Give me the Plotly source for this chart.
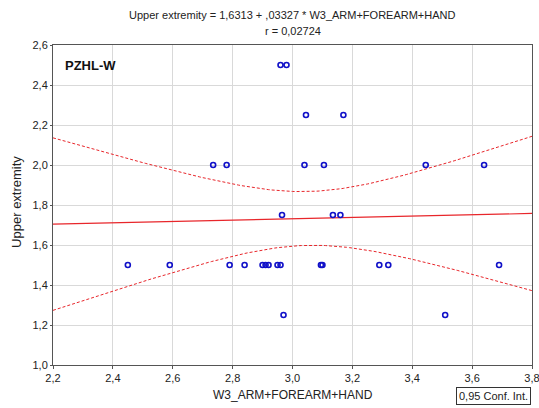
import numpy as np
import plotly.graph_objects as go

# ---- data ----
x_w3 = [2.45, 2.59, 2.79, 2.84, 2.90, 2.91, 2.92, 2.95, 2.96, 3.095, 3.10, 3.29, 3.32, 3.69,
        2.97, 3.51,
        2.735, 2.78, 3.04, 3.105, 3.445, 3.64,
        3.045, 3.17,
        2.96, 2.98,
        2.965, 3.135, 3.16]
y_upper = [1.5] * 14 + [1.25] * 2 + [2.0] * 6 + [2.25] * 2 + [2.5] * 2 + [1.75] * 3

intercept = 1.6313
slope = 0.03327
r_value = "0,02724"
T_CRIT = 2.052  # t(0.975, df = n-2 = 27)

x_ticks = [2.2, 2.4, 2.6, 2.8, 3.0, 3.2, 3.4, 3.6, 3.8]
y_ticks = [1.0, 1.2, 1.4, 1.6, 1.8, 2.0, 2.2, 2.4, 2.6]

# ---- regression line and 95% confidence band ----
xa = np.array(x_w3)
ya = np.array(y_upper)
n = len(xa)
resid = ya - (intercept + slope * xa)
s = np.sqrt(np.sum(resid ** 2) / (n - 2))
sxx = np.sum((xa - xa.mean()) ** 2)
xg = np.linspace(x_ticks[0], x_ticks[-1], 161)
yg = intercept + slope * xg
half = T_CRIT * s * np.sqrt(1.0 / n + (xg - xa.mean()) ** 2 / sxx)

red = "#e8262b"
fig = go.Figure()
fig.add_trace(go.Scatter(x=xg, y=yg + half, mode="lines",
                         line=dict(color=red, width=1, dash="3px,2px"), hoverinfo="skip"))
fig.add_trace(go.Scatter(x=xg, y=yg - half, mode="lines",
                         line=dict(color=red, width=1, dash="3px,2px"), hoverinfo="skip"))
fig.add_trace(go.Scatter(x=xg, y=yg, mode="lines",
                         line=dict(color=red, width=1.2), hoverinfo="skip"))
fig.add_trace(go.Scatter(x=x_w3, y=y_upper, mode="markers",
                         marker=dict(symbol="circle-open", size=5, color="#1010c8",
                                     line=dict(width=1.6, color="#1010c8"))))

font_family = "Liberation Sans, Arial, sans-serif"
txt = "#222"
fig.update_layout(
    width=539, height=408,
    margin=dict(l=53, r=7, t=45, b=43),
    paper_bgcolor="white", plot_bgcolor="white",
    separators=",.",
    showlegend=False,
    font=dict(family=font_family, size=11, color=txt),
    xaxis=dict(range=[2.2, 3.8], tickvals=x_ticks, tickformat=".1f", automargin=False,
               ticklabeloverflow="allow",
               showgrid=True, gridcolor="#d9d9d9", gridwidth=1,
               showline=True, linecolor="#555", linewidth=1, mirror=True,
               ticks="outside", ticklen=3, tickcolor="#555", zeroline=False),
    yaxis=dict(range=[1.0, 2.6], tickvals=y_ticks, tickformat=".1f", automargin=False,
               ticklabeloverflow="allow",
               showgrid=True, gridcolor="#d9d9d9", gridwidth=1,
               showline=True, linecolor="#555", linewidth=1, mirror=True,
               ticks="outside", ticklen=2, tickcolor="#555", zeroline=False),
    annotations=[
        dict(text="Upper extremity = 1,6313 + ,03327 * W3_ARM+FOREARM+HAND",
             xref="paper", yref="paper", x=0.5, y=1.094, xanchor="center", yanchor="middle",
             showarrow=False, font=dict(size=11, color=txt)),
        dict(text="r = " + r_value,
             xref="paper", yref="paper", x=0.5, y=1.044, xanchor="center", yanchor="middle",
             showarrow=False, font=dict(size=11, color=txt)),
        dict(text="W3_ARM+FOREARM+HAND", xref="paper", yref="paper", x=0.5, y=-0.094,
             xanchor="center", yanchor="middle", showarrow=False,
             font=dict(size=12, color=txt)),
        dict(text="Upper extremity", xref="paper", yref="paper", x=-0.075, y=0.51,
             xanchor="center", yanchor="middle", textangle=-90, showarrow=False,
             font=dict(size=13, color=txt)),
        dict(text="<b>PZHL-W</b>", xref="paper", yref="paper", x=0.02, y=0.965,
             xanchor="left", yanchor="top", showarrow=False,
             font=dict(size=13, color="#111")),
        dict(text="0,95 Conf. Int.", xref="paper", yref="paper", x=0.997, y=-0.07,
             xanchor="right", yanchor="top", showarrow=False,
             bordercolor="#333", borderwidth=1, borderpad=2, bgcolor="white",
             font=dict(size=11, color=txt)),
    ],
)

fig.write_html("out.html", config={"displayModeBar": False},
               post_script="document.body.style.margin='0';document.body.style.overflow='hidden';")
